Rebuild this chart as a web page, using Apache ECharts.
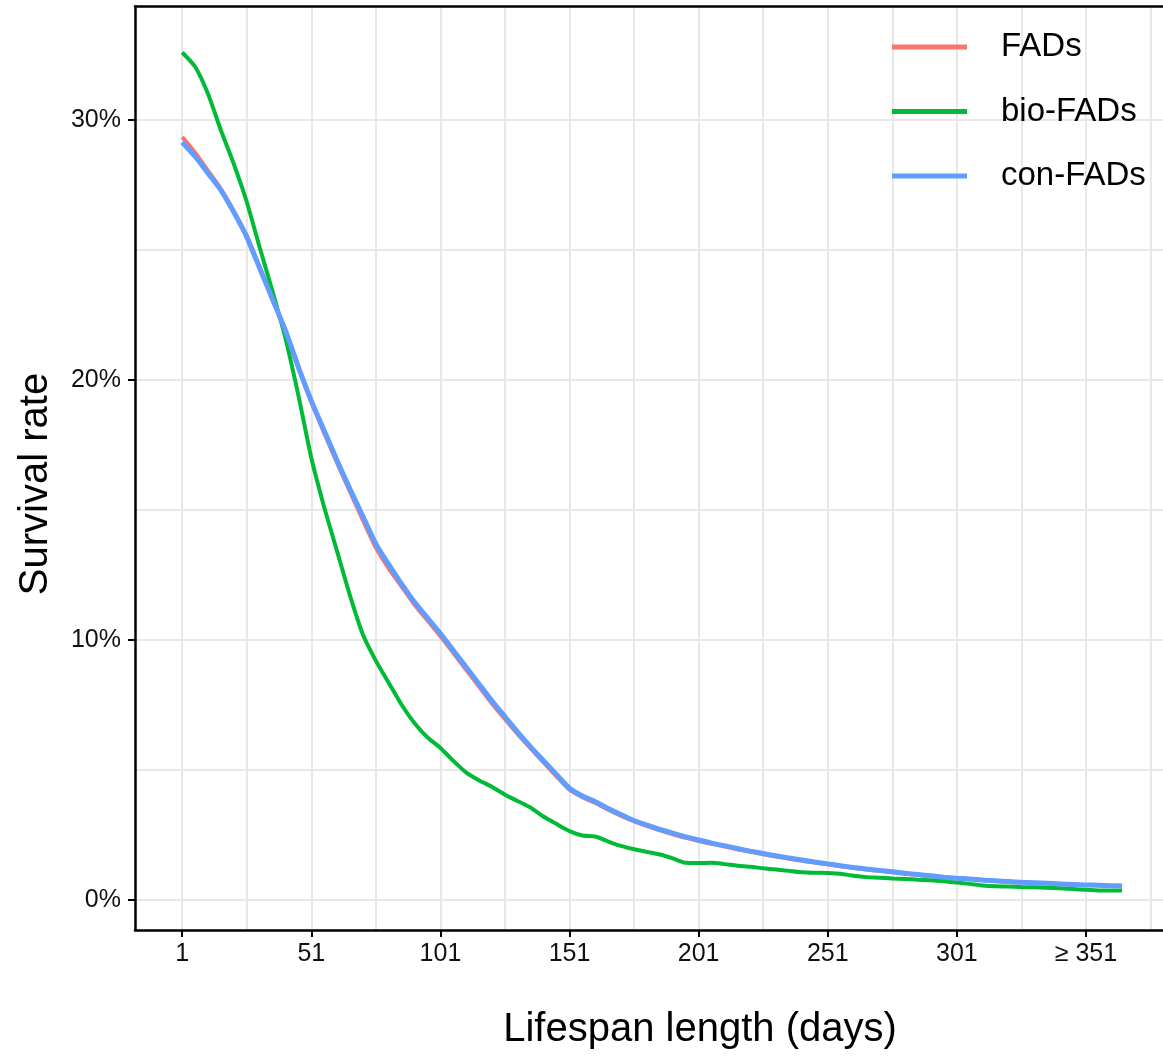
<!DOCTYPE html>
<html><head><meta charset="utf-8">
<script src="https://cdn.jsdelivr.net/npm/echarts@6/dist/echarts.min.js"></script>
<style>html,body{margin:0;padding:0;background:#fff}#c{width:1163px;height:1060px}</style>
</head><body><div id="c"></div>
<script>
// ---- data ----
const days = [1,6,11,16,21,26,31,36,41,46, 51,56,61,66,71,76,81,86,91,96,
  101,106,111,116,121,126,131,136,141,146, 151,156,161,166,171,176,181,186,191,196,
  201,206,211,216,221,226,231,236,241,246, 251,256,261,266,271,276,281,286,291,296,
  301,306,311,316,321,326,331,336,341,346, 351,356,361,365];
const fads = [29.35,28.75,28.05,27.35,26.5,25.55,24.35,23.1,21.85,20.45,
  19.15,17.95,16.8,15.7,14.6,13.55,12.75,12.05,11.35,10.75,
  10.15,9.5,8.85,8.2,7.55,6.95,6.37,5.82,5.28,4.75,
  4.24,3.95,3.73,3.47,3.23,3.02,2.84,2.68,2.53,2.39,
  2.27,2.16,2.06,1.95,1.85,1.76,1.67,1.59,1.51,1.44,
  1.37,1.30,1.23,1.17,1.12,1.07,1.01,0.96,0.91,0.87,
  0.83,0.80,0.76,0.73,0.70,0.67,0.65,0.63,0.61,0.59,
  0.57,0.56,0.54,0.53];
const bioFads = [32.6,32.05,31.0,29.6,28.3,26.85,25.1,23.4,21.6,19.4,
  17.0,15.1,13.4,11.7,10.2,9.2,8.35,7.5,6.8,6.25,
  5.85,5.35,4.9,4.6,4.35,4.05,3.8,3.55,3.2,2.92,
  2.65,2.48,2.44,2.25,2.08,1.95,1.85,1.75,1.6,1.43,
  1.42,1.43,1.38,1.32,1.28,1.22,1.17,1.12,1.07,1.05,
  1.04,1.01,0.93,0.88,0.86,0.83,0.81,0.78,0.76,0.72,
  0.67,0.62,0.56,0.53,0.52,0.50,0.49,0.47,0.45,0.42,
  0.39,0.37,0.37,0.37];
const conFads = [29.15,28.6,27.95,27.3,26.45,25.5,24.3,23.1,21.9,20.5,
  19.2,18.05,16.9,15.8,14.75,13.7,12.9,12.15,11.45,10.85,
  10.25,9.6,8.95,8.3,7.65,7.05,6.45,5.88,5.35,4.82,
  4.3,4.0,3.78,3.52,3.28,3.06,2.88,2.72,2.57,2.43,
  2.31,2.19,2.09,1.98,1.88,1.79,1.70,1.62,1.54,1.46,
  1.39,1.32,1.25,1.19,1.14,1.09,1.03,0.98,0.93,0.88,
  0.84,0.81,0.77,0.74,0.71,0.68,0.66,0.64,0.62,0.60,
  0.58,0.57,0.55,0.54];
const seriesNames = ['FADs','bio-FADs','con-FADs'];
const xTickValues = [1,51,101,151,201,251,301,351];
const xTickLabels = ['1','51','101','151','201','251','301','\u2265 351'];
const yTickValues = [0,10,20,30];
const yTickLabels = ['0%','10%','20%','30%'];
const xGridValues = [1,26,51,76,101,126,151,176,201,226,251,276,301,326,351,376];
const yGridValues = [0,5,10,15,20,25,30];
const xTitle = 'Lifespan length (days)';
const yTitle = 'Survival rate';

// ---- chart ----
const FONT = 'Liberation Sans, Arial, sans-serif';
const XMIN = -17.3, XMAX = 382.4, YMIN = -1.154, YMAX = 34.37;
const chart = echarts.init(document.getElementById('c'), null, {renderer:'canvas'});
const pair = arr => days.map((d,i)=>[d, arr[i]]);
const axisLineStyle = {color:'#000', width:2.5};
chart.setOption({
  animation:false,
  backgroundColor:'#fff',
  grid:{left:135, top:6.5, right:-4, bottom:130, containLabel:false, outerBoundsMode:'none', show:false},
  legend:{
    data:seriesNames, orient:'vertical', left:892, top:27, padding:0,
    icon:'rect', itemWidth:75, itemHeight:5, itemGap:24.5,
    textStyle:{fontSize:33, fontFamily:FONT, color:'#000', lineHeight:40, padding:[0,0,0,29]}
  },
  xAxis:[{
    type:'value', min:XMIN, max:XMAX, z:4,
    axisLine:{show:true, onZero:false, lineStyle:axisLineStyle},
    axisTick:{show:true, customValues:xTickValues, length:7, lineStyle:{color:'#000', width:2}},
    axisLabel:{customValues:xTickValues, formatter:v=>xTickLabels[xTickValues.indexOf(v)],
      fontSize:25, fontFamily:FONT, color:'#111', margin:12},
    splitLine:{show:false}
  },{
    type:'value', position:'top', min:XMIN, max:XMAX, z:4,
    axisLine:{show:true, onZero:false, lineStyle:axisLineStyle},
    axisTick:{show:false}, axisLabel:{show:false}, splitLine:{show:false}
  }],
  yAxis:{
    type:'value', min:YMIN, max:YMAX, z:4,
    axisLine:{show:true, onZero:false, lineStyle:axisLineStyle},
    axisTick:{show:true, customValues:yTickValues, length:7, lineStyle:{color:'#000', width:2}},
    axisLabel:{customValues:yTickValues, formatter:v=>yTickLabels[yTickValues.indexOf(v)],
      fontSize:25, fontFamily:FONT, color:'#111', margin:14},
    splitLine:{show:false}
  },
  graphic:[
    {type:'text', x:700, y:1030, style:{text:xTitle, fontSize:40, fontFamily:FONT, fill:'#000', align:'center', verticalAlign:'middle'}},
    {type:'text', x:36, y:484, rotation:Math.PI/2, style:{text:yTitle, fontSize:40, fontFamily:FONT, fill:'#000', align:'center', verticalAlign:'middle'}}
  ],
  series:[
    {type:'line', name:'grid', data:[], silent:true, z:0,
      markLine:{silent:true, z:1, animation:false, symbol:['none','none'], label:{show:false},
        emphasis:{disabled:true},
        lineStyle:{color:'#e8e8e8', width:2, type:'solid'},
        data:[...xGridValues.map(v=>({xAxis:v})), ...yGridValues.map(v=>({yAxis:v}))]}},
    {type:'line', name:seriesNames[0], data:pair(fads), symbol:'none', showSymbol:false, z:2, smooth:0.2,
      lineStyle:{width:4, color:'#F8766D'}, itemStyle:{color:'#F8766D'}},
    {type:'line', name:seriesNames[1], data:pair(bioFads), symbol:'none', showSymbol:false, z:2, smooth:0.2,
      lineStyle:{width:4, color:'#00BA38'}, itemStyle:{color:'#00BA38'}},
    {type:'line', name:seriesNames[2], data:pair(conFads), symbol:'none', showSymbol:false, z:2, smooth:0.2,
      lineStyle:{width:5, color:'#619CFF'}, itemStyle:{color:'#619CFF'}}
  ]
});
</script></body></html>
